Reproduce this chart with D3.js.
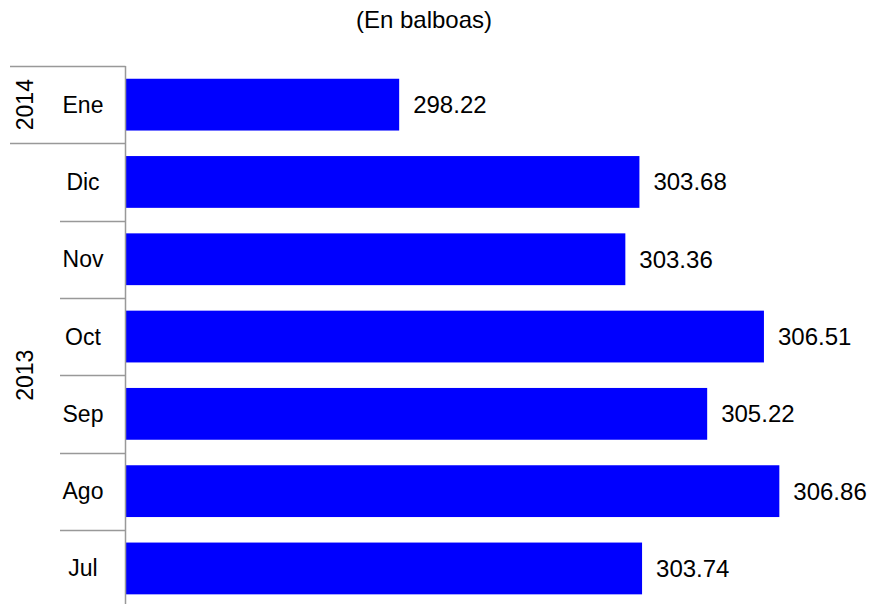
<!DOCTYPE html>
<html>
<head>
<meta charset="utf-8">
<script src="https://cdn.jsdelivr.net/npm/d3@7"></script>
<style>
  body { margin: 0; background: #fff; }
  svg { display: block; }
</style>
</head>
<body>
<script>
// data, top to bottom
const months = ["Ene", "Dic", "Nov", "Oct", "Sep", "Ago", "Jul"]
const years = ["2014", "2013", "2013", "2013", "2013", "2013", "2013"]
const values = [298.22, 303.68, 303.36, 306.51, 305.22, 306.86, 303.74]
const title = "(En balboas)"

const width = 872
const height = 604
const margin = { top: 66, left: 125.5 }
const font = "'Liberation Sans', Arial, sans-serif"
const lineColor = "#999"

const svg = d3.select("body").append("svg")
    .attr("width", width)
    .attr("height", height)
    .style("font-family", font)

const yScale = d3.scaleBand()
    .domain(months)
    .range([margin.top, margin.top + 77.3 * months.length])
    .paddingInner(0.33)
    .paddingOuter(0.165)

const xScale = d3.scaleLinear()
    .domain([292, 308])
    .range([margin.left, margin.left + 16 * 44])

const step = yScale.step()
const bandTop = m => yScale(m) - yScale.paddingOuter() * step

// title
svg.append("text")
    .attr("x", 424)
    .attr("y", 28)
    .attr("text-anchor", "middle")
    .style("font-size", "24px")
    .text(title)

// bars
svg.selectAll(".bar")
    .data(values)
    .enter()
    .append("rect")
    .attr("x", xScale(292))
    .attr("y", (d, i) => yScale(months[i]))
    .attr("width", d => xScale(d) - xScale(292))
    .attr("height", yScale.bandwidth())
    .attr("fill", "#0000ff")

// value labels
svg.selectAll(".val")
    .data(values)
    .enter()
    .append("text")
    .attr("x", d => xScale(d) + 14)
    .attr("y", (d, i) => yScale(months[i]) + yScale.bandwidth() / 2)
    .attr("dominant-baseline", "central")
    .style("font-size", "24px")
    .text(d => d.toFixed(2))

// category separators
months.forEach((m, i) => {
    const y = Math.round(bandTop(m)) + 0.5
    const yearStart = i === 0 || years[i] !== years[i - 1]
    svg.append("line")
        .attr("x1", yearStart ? 10 : 60)
        .attr("x2", margin.left)
        .attr("y1", y)
        .attr("y2", y)
        .attr("stroke", lineColor)
        .attr("stroke-width", 1.5)
})

// month labels
svg.selectAll(".month")
    .data(months)
    .enter()
    .append("text")
    .attr("x", 83)
    .attr("y", d => yScale(d) + yScale.bandwidth() / 2)
    .attr("text-anchor", "middle")
    .attr("dominant-baseline", "central")
    .style("font-size", "23px")
    .text(d => d)

// year group labels
const yearGroups = d3.groups(months.map((m, i) => ({ m, y: years[i] })), d => d.y)
yearGroups.forEach(([yr, items]) => {
    const y0 = bandTop(items[0].m)
    const y1 = bandTop(items[items.length - 1].m) + step
    const cy = (y0 + y1) / 2
    svg.append("text")
        .attr("transform", `translate(25,${cy}) rotate(-90)`)
        .attr("text-anchor", "middle")
        .attr("dominant-baseline", "central")
        .style("font-size", "23px")
        .text(yr)
})

// axis line
svg.append("line")
    .attr("x1", margin.left)
    .attr("x2", margin.left)
    .attr("y1", margin.top)
    .attr("y2", height)
    .attr("stroke", lineColor)
    .attr("stroke-width", 1.5)
</script>
</body>
</html>
